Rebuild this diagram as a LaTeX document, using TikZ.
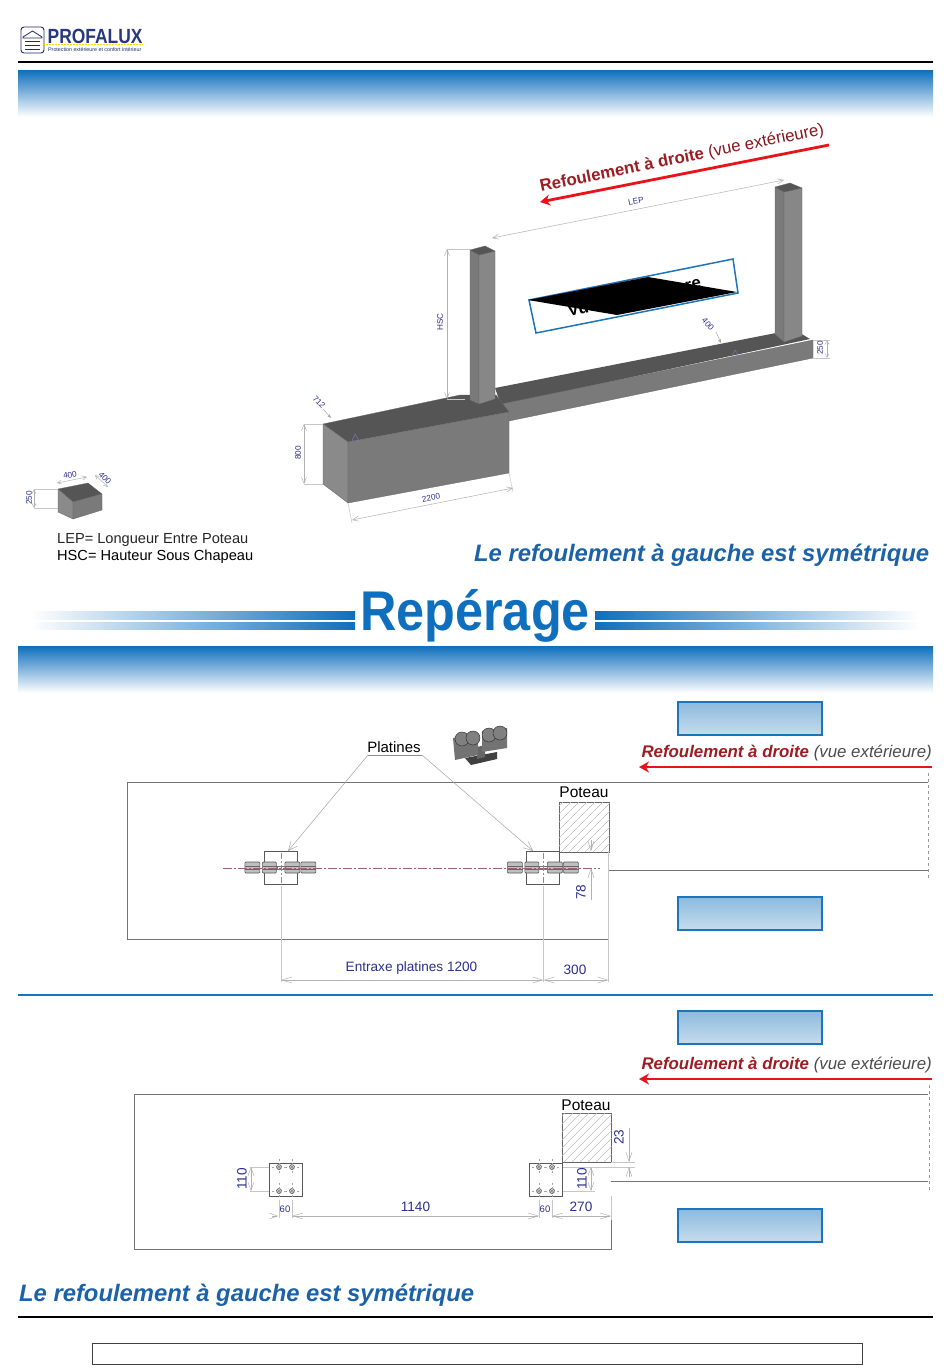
\documentclass[tikz,border=0pt]{standalone}
\usepackage{fontspec}
\setmainfont{Liberation Sans}
\usetikzlibrary{arrows.meta}
\definecolor{band}{HTML}{0F6FBC}
\definecolor{bluet}{HTML}{1B62A8}
\definecolor{boxb}{HTML}{1A75BB}
\definecolor{navy}{HTML}{2B2F8F}
\definecolor{logob}{HTML}{28387F}
\definecolor{dred}{HTML}{9E1B22}
\definecolor{rred}{HTML}{E8141A}
\definecolor{lav}{HTML}{D5D8EC}
\definecolor{gfront}{HTML}{7A7A7A}
\definecolor{gtop}{HTML}{555555}
\definecolor{gleft}{HTML}{8A8A8A}
\tikzset{
  band/.style={top color=band,bottom color=white,draw=none},
  repbox/.style={top color=boxb!50,bottom color=boxb!25,draw=boxb,line width=1.6pt},
  rule/.style={line width=1.6pt,black},
  wall/.style={draw=black!55,line width=0.9pt},
  dim/.style={draw=black!30,line width=0.5pt,{Straight Barb[length=6pt,width=5pt]}-{Straight Barb[length=6pt,width=5pt]}},
  ext/.style={draw=black!22,line width=0.5pt},
  lead/.style={draw=black!35,line width=0.5pt,-{Straight Barb[length=9pt,width=8pt]}},
  dlab/.style={text=navy,inner sep=0pt},
  tlab/.style={text=black!85,inner sep=0pt},
  titre/.style={text=bluet,inner sep=0pt,font=\fontsize{23.8}{24}\selectfont\bfseries\itshape},
  solid3d/.style={draw=black!60,line width=0.3pt,line join=round},
  plate/.style={draw=black!65,line width=0.7pt},
  roller/.style={draw=black!65,fill=black!25,line width=0.7pt,rounded corners=1pt},
  redarrow/.style={draw=rred,line width=2.8pt,-{Stealth[length=10pt,width=11pt]}},
  hatchl/.style={draw=black!25,line width=0.5pt},
  sm/.style={font=\fontsize{8.2}{9}\selectfont},
}
\begin{document}
\begin{tikzpicture}[x=1pt,y=-1pt]
\useasboundingbox (0,0) rectangle (950,1369);
\fill[white] (0,0) rectangle (950,1369);
% ---- logo
\draw[logob!80!black,line width=0.9pt,rounded corners=3pt,fill=white] (21,27) rectangle (44,53);
\draw[logob!80!black,line width=0.8pt] (23,37) -- (32.5,31) -- (42,37) -- (42,38) -- (23,38) -- cycle;
\draw[logob!80!black,line width=0.7pt] (25,41) -- (40,41) (25,45) -- (40,45) (25,49) -- (40,49);
\node[anchor=west,inner sep=0pt,text=logob,xscale=0.85,font=\fontsize{20.5}{21}\selectfont\bfseries] (logo) at (47.5,36) {PROFALUX};
\draw[yellow!80!orange,line width=0.5pt,densely dotted] (44,44.5) -- (142,44.5);
\node[anchor=west,inner sep=0pt,text=logob!80!black,font=\fontsize{5.3}{6}\selectfont] (tag) at (48,50) {Protection extérieure et confort intérieur};
\draw[rule] (18,62) -- (933,62);
\shade[band] (18,70) rectangle (933,117);
% ---- 3D view
\fill[gtop] (800,333) -- (810,339) -- (501,405) -- (495,388) -- (776,333) -- cycle;
\filldraw[solid3d,fill=gfront] (501,404) -- (813,340) -- (813,358) -- (509,421) -- cycle;
\filldraw[solid3d,fill=gtop] (323,424) -- (460,395) -- (496,395) -- (509,412) -- (348,442) -- cycle;
\filldraw[solid3d,fill=gleft] (323,424) -- (348,442) -- (348,503) -- (323,484) -- cycle;
\filldraw[solid3d,fill=gfront] (348,442) -- (509,412) -- (509,473) -- (348,503) -- cycle;
% posts
\filldraw[solid3d,fill=gfront] (470,250) -- (479,255) -- (479,404) -- (470,400) -- cycle;
\filldraw[solid3d,fill=black!47] (479,255) -- (495,251) -- (495,399) -- (479,404) -- cycle;
\filldraw[solid3d,fill=gtop] (470,250) -- (485,246) -- (495,251) -- (479,255) -- cycle;
\filldraw[solid3d,fill=gfront] (775,187) -- (784,192) -- (784,342) -- (775,334) -- cycle;
\filldraw[solid3d,fill=black!47] (784,192) -- (802,188) -- (802,336) -- (784,342) -- cycle;
\filldraw[solid3d,fill=gtop] (775,187) -- (790,183) -- (802,188) -- (784,192) -- cycle;
% small block
\filldraw[solid3d,fill=gtop] (58,489) -- (88,483) -- (102,494) -- (73,502) -- cycle;
\filldraw[solid3d,fill=gleft] (58,489) -- (73,502) -- (73,519) -- (58,512) -- cycle;
\filldraw[solid3d,fill=gfront] (73,502) -- (102,494) -- (102,510) -- (73,519) -- cycle;
% red arrow 3D
\coordinate (ra1) at (829,145); \coordinate (ra2) at (540,202);
\draw[redarrow] (ra1) -- (ra2);
\node[rotate=11.4,inner sep=0pt] (rt1) at (682,158.5) {\fontsize{16.8}{17}\selectfont\textcolor{dred}{\bfseries Refoulement à droite} \textcolor{dred!85!black}{(vue extérieure)}};
% blue rotated box
\draw[boxb,line width=1.5pt,fill=white] (529,300) -- (733,259) -- (738,293) -- (536,333) -- cycle;
\node[rotate=11.4,inner sep=0pt,font=\fontsize{17}{17}\selectfont\bfseries] (vu) at (578,309) {Vu};
\node[rotate=11.4,inner sep=0pt,font=\fontsize{17}{17}\selectfont\bfseries] (re) at (693,285) {re};
\fill[black] (528,300) -- (648,277) -- (737,292) -- (617,315) -- cycle;
% dims 3D
\coordinate (lep1) at (492,238); \coordinate (lep2) at (784,180);
\draw[dim] (lep1) -- (lep2);
\node[dlab,rotate=11.4,fill=white,inner xsep=1pt,sm] (lep) at (636,201) {LEP};
\coordinate (h1) at (447,249); \coordinate (h2) at (447,399);
\draw[ext] (h1) -- (470,249) (h2) -- (465,399);
\draw[dim] (h1) -- (h2);
\node[dlab,rotate=90,sm] (hsc) at (440,322) {HSC};
\coordinate (d1) at (304,424); \coordinate (d2) at (304,484);
\draw[ext] (d1) -- (323,424) (d2) -- (323,484);
\draw[dim] (d1) -- (d2);
\node[dlab,rotate=90,sm] (d800) at (298,453) {800};
\coordinate (w1) at (352,520); \coordinate (w2) at (513,488);
\draw[ext] (348,503) -- (352,523) (509,473) -- (513,492);
\draw[dim] (w1) -- (w2);
\node[dlab,rotate=11.4,sm] (d2200) at (431,498) {2200};
\coordinate (a1) at (323,409); \coordinate (a2) at (331,418);
\draw[draw=black!35,line width=0.5pt,-{Stealth[length=4pt,width=3pt]}] (a1) -- (a2);
\node[dlab,rotate=-45,sm] (d712) at (319,402) {712};
\draw[navy!60,line width=0.4pt] (352,441) -- (355,434) -- (359,441) -- cycle;
\coordinate (b1) at (716,332); \coordinate (b2) at (721,343);
\draw[draw=black!35,line width=0.5pt,-{Stealth[length=4pt,width=3pt]}] (b1) -- (b2);
\node[dlab,rotate=-50,sm] (d400a) at (708,324) {400};
\draw[navy!60,line width=0.4pt] (732,356) -- (735,350) -- (739,356) -- cycle;
\coordinate (c1) at (827,340); \coordinate (c2) at (827,358);
\draw[ext] (813,358) -- (830,358) (813,340) -- (830,340);
\draw[dim,{Straight Barb[length=4pt,width=4pt]}-{Straight Barb[length=4pt,width=4pt]}] (c1) -- (c2);
\node[dlab,rotate=90,sm] (d250) at (820,348) {250};
% small block dims
\coordinate (s1) at (34,489); \coordinate (s2) at (34,508);
\draw[ext] (s1) -- (58,489) (s2) -- (58,508);
\draw[dim,{Straight Barb[length=4pt,width=4pt]}-{Straight Barb[length=4pt,width=4pt]}] (s1) -- (s2);
\node[dlab,rotate=90,sm] (d250b) at (29,498) {250};
\coordinate (t1) at (57,483); \coordinate (t2) at (87,477);
\draw[dim,{Straight Barb[length=4pt,width=4pt]}-{Straight Barb[length=4pt,width=4pt]}] (t1) -- (t2);
\node[dlab,rotate=10,fill=white,sm] (d400t) at (70,475) {400};
\coordinate (u1) at (95,475); \coordinate (u2) at (108,487);
\draw[dim,{Straight Barb[length=4pt,width=4pt]}-{Straight Barb[length=4pt,width=4pt]}] (u1) -- (u2);
\node[dlab,rotate=-45,fill=white,sm] (d400r) at (105,478) {400};
\node[tlab,anchor=west,font=\fontsize{14.6}{15}\selectfont] (leg1) at (57,540) {LEP= Longueur Entre Poteau};
\node[tlab,anchor=west,font=\fontsize{14.6}{15}\selectfont,text=black] (leg2) at (57,556.5) {HSC= Hauteur Sous Chapeau};
\node[titre,anchor=west] (t3d) at (474,555) {Le refoulement à gauche est symétrique};
% ---- Repérage
\shade[left color=white,middle color=lav,right color=band] (30,611) rectangle (355,619);
\shade[left color=white,middle color=lav,right color=band] (30,622) rectangle (355,629);
\shade[right color=white,middle color=lav,left color=band] (595,611) rectangle (920,619);
\shade[right color=white,middle color=lav,left color=band] (595,622) rectangle (920,629);
\node[inner sep=0pt,text=band,xscale=0.9,font=\fontsize{56}{56}\selectfont\bfseries] (rep) at (475,616) {Repérage};
\shade[band] (18,646) rectangle (933,693);
% ---- plan 1
\node[repbox,minimum width=144pt,minimum height=33pt,inner sep=0pt] (b1a) at (750,718.5) {};
\node[repbox,minimum width=144pt,minimum height=33pt,inner sep=0pt] (b1b) at (750,913.5) {};
\node[anchor=east,inner sep=0pt,font=\fontsize{16.85}{17}\selectfont\itshape] (r1) at (932,753) {\textcolor{dred}{\bfseries Refoulement à droite} \textcolor{black!70}{(vue extérieure)}};
\coordinate (ar1a) at (932,767); \coordinate (ar1b) at (639,767);
\draw[redarrow,line width=2.3pt] (ar1a) -- (ar1b);
\draw[wall] (928,782) -- (127,782) -- (127,939) -- (608,939);
\draw[wall] (608,870) -- (928,870);
\draw[black!40,line width=0.9pt,dash pattern=on 3pt off 3pt] (928,773) -- (928,880);
\node[inner sep=0pt,text=black,font=\fontsize{15}{15}\selectfont] (pla) at (394,747) {Platines};
\coordinate (pl1) at (368,755); \coordinate (pl2) at (422,755);
\coordinate (pp1) at (288,851); \coordinate (pp2) at (533,851);
\draw[lead] (pl1) -- (pp1);
\draw[lead] (pl2) -- (pp2);
\draw[black!45,line width=0.5pt] (pl1) -- (pl2);
% roller icon
\begin{scope}[line join=round]
\fill[black!75] (465,758) -- (497,752) -- (497,759) -- (471,765) -- cycle;
\fill[black!60] (477,747) -- (485,745) -- (485,757) -- (477,759) -- cycle;
\fill[black!55] (453,738) -- (478,733) -- (478,755) -- (455,760) -- cycle;
\fill[black!55] (482,731) -- (507,728) -- (507,748) -- (482,752) -- cycle;
\filldraw[fill=black!50,draw=black!80,line width=0.5pt] (462,739) circle (7pt);
\filldraw[fill=black!50,draw=black!80,line width=0.5pt] (473,738) circle (7pt);
\filldraw[fill=black!50,draw=black!80,line width=0.5pt] (489,735) circle (7pt);
\filldraw[fill=black!50,draw=black!80,line width=0.5pt] (500,733) circle (7pt);
\end{scope}
% post 1
\node[draw=black!60,line width=0.7pt,minimum size=50pt,inner sep=0pt,anchor=north west] (p1) at (559,802) {};
\begin{scope}
\clip (p1.north west) rectangle (p1.south east);
\foreach \k in {0,8,...,104}{\draw[hatchl] (505+\k,852) -- ++(50,-50);}
\end{scope}
\node[inner sep=0pt,text=black,font=\fontsize{15.5}{15}\selectfont] (pot1) at (584,792) {Poteau};
% platines 1
\foreach \dx/\n in {0/a,262.5/b}{
\begin{scope}[xshift=\dx pt]
\draw[plate,fill=white] (264,851) rectangle (297,884);
\foreach \rx/\rw in {245/15,262.5/14,285/15,301/15}{
  \node[roller,minimum width=\rw pt,minimum height=11pt,inner sep=0pt,anchor=west] at (\rx-0.5,867.5) {};
  \draw[black!60,line width=0.7pt] (\rx,866) -- ++(\rw,0) (\rx,869.5) -- ++(\rw,0);
}
\draw[black!55,line width=0.7pt] (277,866) rectangle (285,869);
\end{scope}}
\draw[red!35!black!60,line width=0.6pt,dash pattern=on 9pt off 2pt on 2pt off 2pt] (223,868) -- (600,868);
\draw[black!45,line width=0.5pt,dash pattern=on 6pt off 2pt on 2pt off 2pt] (281,853) -- (281,884) (543.5,853) -- (543.5,884);
\coordinate (e1) at (281,982); \coordinate (e2) at (543.5,982); \coordinate (e3) at (608.5,982);
\coordinate (f1) at (281,980); \coordinate (f2) at (543.5,980); \coordinate (f3) at (608.5,980);
\draw[ext] (281,886) -- (e1) (543.5,886) -- (e2) (608.5,851) -- (e3);
\draw[dim,{Straight Barb[length=10pt,width=6pt]}-{Straight Barb[length=10pt,width=6pt]}] (f1) -- (f2);
\draw[dim,{Straight Barb[length=10pt,width=6pt]}-{Straight Barb[length=10pt,width=6pt]}] (f2) -- (f3);
\node[dlab,font=\fontsize{13.6}{14}\selectfont] (ent) at (411.5,968) {Entraxe platines 1200};
\node[dlab,font=\fontsize{13.6}{14}\selectfont] (d300) at (575,970) {300};
\coordinate (g1) at (591,840); \coordinate (g2) at (591,851); \coordinate (g3) at (591,868); \coordinate (g4) at (591,900);
\draw[black!30,line width=0.5pt,-{Straight Barb[length=9pt,width=6pt]}] (g1) -- (g2);
\draw[black!30,line width=0.5pt,-{Straight Barb[length=9pt,width=6pt]}] (g4) -- (g3);
\node[dlab,rotate=90,font=\fontsize{13.6}{14}\selectfont] (d78) at (581,892) {78};
\draw[boxb,line width=1.1pt] (18,995) -- (933,995);
% ---- plan 2
\node[repbox,minimum width=144pt,minimum height=33pt,inner sep=0pt] (b2a) at (750,1027.5) {};
\node[repbox,minimum width=144pt,minimum height=33pt,inner sep=0pt] (b2b) at (750,1225.5) {};
\node[anchor=east,inner sep=0pt,font=\fontsize{16.85}{17}\selectfont\itshape] (r2) at (932,1065) {\textcolor{dred}{\bfseries Refoulement à droite} \textcolor{black!70}{(vue extérieure)}};
\coordinate (ar2a) at (932,1079); \coordinate (ar2b) at (639,1079);
\draw[redarrow,line width=2.3pt] (ar2a) -- (ar2b);
\draw[wall] (928,1094) -- (134,1094) -- (134,1249) -- (611,1249) -- (611,1218);
\draw[wall] (611,1181) -- (928,1181);
\draw[black!40,line width=0.9pt,dash pattern=on 3pt off 3pt] (929,1085) -- (929,1191);
\node[draw=black!60,line width=0.7pt,minimum size=49pt,inner sep=0pt,anchor=north west] (p2) at (562,1113) {};
\begin{scope}
\clip (p2.north west) rectangle (p2.south east);
\foreach \k in {0,8,...,104}{\draw[hatchl] (508+\k,1162) -- ++(50,-50);}
\end{scope}
\node[inner sep=0pt,text=black,font=\fontsize{15.5}{15}\selectfont] (pot2) at (586,1105) {Poteau};
\foreach \dx in {0,260}{
\begin{scope}[xshift=\dx pt]
\draw[plate,line width=0.8pt] (269,1163) rectangle (302,1196);
\foreach \bx in {279,292}\foreach \by in {1167,1191}{
  \draw[black!70,line width=0.6pt,fill=black!15] (\bx,\by) circle (2.5pt);
  \fill[black!70] (\bx,\by) circle (0.8pt);
  \draw[black!35,line width=0.4pt,dash pattern=on 2pt off 2pt] (\bx-7,\by) -- (\bx+7,\by) (\bx,\by-8) -- (\bx,\by+8);
}
\end{scope}}
\foreach \xc/\n in {251/la,591/ra}{
  \coordinate (v\n1) at (\xc,1167); \coordinate (v\n2) at (\xc,1191);
}
\draw[ext] (250,1167) -- (269,1167) (250,1191) -- (269,1191) (563,1167) -- (635,1167) (563,1191) -- (595,1191) (611,1162) -- (635,1162);
\draw[dim,{Straight Barb[length=8pt,width=6pt]}-{Straight Barb[length=8pt,width=6pt]}] (vla1) -- (vla2);
\draw[dim,{Straight Barb[length=8pt,width=6pt]}-{Straight Barb[length=8pt,width=6pt]}] (vra1) -- (vra2);
\node[dlab,rotate=90,font=\fontsize{13.6}{14}\selectfont] (d110a) at (242,1179) {110};
\node[dlab,rotate=90,font=\fontsize{13.6}{14}\selectfont] (d110b) at (582,1179) {110};
\coordinate (k1) at (278,1216); \coordinate (k2) at (292,1216); \coordinate (k3) at (539,1216); \coordinate (k4) at (552,1216); \coordinate (k5) at (611,1216);
\draw[ext] (279,1200) -- (279,1218) (292,1200) -- (292,1218) (539,1200) -- (539,1218) (552,1200) -- (552,1218) (611,1196) -- (611,1220);
\draw[black!30,line width=0.5pt,-{Straight Barb[length=8pt,width=6pt]}] (272,1216) -- (k1);
\draw[dim,{Straight Barb[length=10pt,width=6pt]}-{Straight Barb[length=10pt,width=6pt]}] (k2) -- (k3);
\draw[dim,{Straight Barb[length=10pt,width=6pt]}-{Straight Barb[length=10pt,width=6pt]}] (k4) -- (k5);
\node[dlab,font=\fontsize{9.5}{10}\selectfont] (d60a) at (285,1209) {60};
\node[dlab,font=\fontsize{9.5}{10}\selectfont] (d60b) at (545,1209) {60};
\node[dlab,font=\fontsize{13.6}{14}\selectfont] (d1140) at (415.5,1207) {1140};
\node[dlab,font=\fontsize{13.6}{14}\selectfont] (d270) at (581,1207) {270};
\coordinate (m1) at (629,1128); \coordinate (m2) at (629,1162); \coordinate (m3) at (629,1177); \coordinate (m4) at (629,1167);
\draw[black!30,line width=0.5pt,-{Straight Barb[length=9pt,width=6pt]}] (m1) -- (m2);
\draw[black!30,line width=0.5pt,-{Straight Barb[length=9pt,width=6pt]}] (m3) -- (m4);
\node[dlab,rotate=90,font=\fontsize{13.6}{14}\selectfont] (d23) at (619,1137) {23};
\node[titre,anchor=west] (tb) at (19,1295) {Le refoulement à gauche est symétrique};
\draw[rule,line width=1.2pt] (18,1317) -- (933,1317);
\node[draw=black!75,line width=0.6pt,minimum width=770pt,minimum height=21pt,inner sep=0pt] (foot) at (477,1353.5) {};
\end{tikzpicture}
\end{document}
